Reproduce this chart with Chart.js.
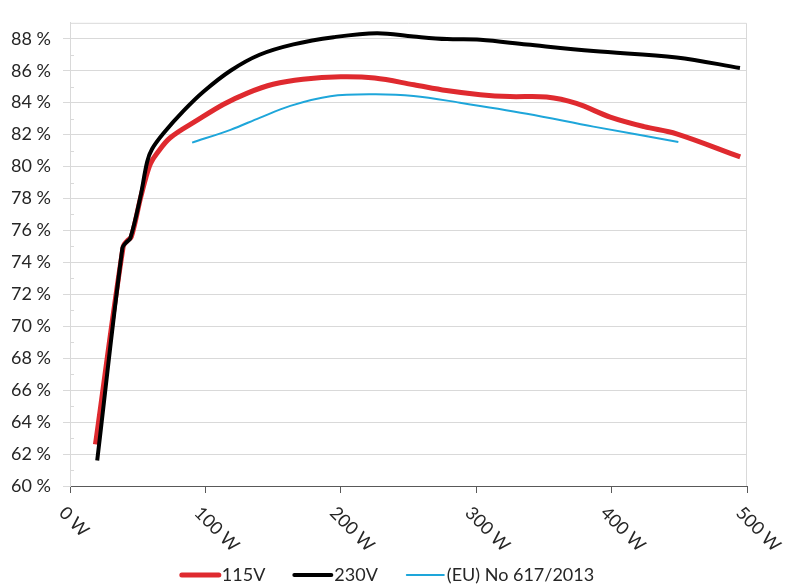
<!DOCTYPE html>
<html>
<head>
<meta charset="utf-8">
<script src="https://cdn.jsdelivr.net/npm/chart.js@4"></script>
<style>
  html, body { margin: 0; padding: 0; background: #fff; }
  #wrap { width: 789px; height: 587px; }
</style>
</head>
<body>
<div id="wrap"><canvas id="chart"></canvas></div>
<script>
// ===== DATA =====
const xTicks = [0, 100, 200, 300, 400, 500];
const seriesNames = ["115V", "230V", "(EU) No 617/2013"];
const seriesColors = ["#DF2A2F", "#000000", "#1EA6DA"];
const seriesWidths = [5, 4, 2];

const watts115 = [18.8, 39.3, 42.3, 45.3, 52, 56, 59.5, 64, 74, 94, 113.5, 131, 150, 172, 200, 225, 254, 278, 303, 325, 352, 374, 399, 424, 448, 495];
const eff115 = [62.6, 75.0, 75.35, 75.6, 78.0, 79.3, 80.2, 80.8, 81.8, 82.9, 83.9, 84.6, 85.15, 85.47, 85.62, 85.54, 85.12, 84.76, 84.5, 84.38, 84.35, 83.95, 83.1, 82.5, 82.05, 80.6];

const watts230 = [20.1, 38.7, 41.5, 44.5, 52, 57, 60.6, 69.2, 84, 98.7, 118.5, 140, 165, 194.7, 226.7, 253.7, 278.4, 303, 337.4, 386.6, 448, 494.8];
const eff230 = [61.6, 74.9, 75.25, 75.5, 78.1, 80.3, 81.1, 82.1, 83.5, 84.7, 86.0, 87.0, 87.65, 88.1, 88.35, 88.14, 87.98, 87.94, 87.64, 87.23, 86.83, 86.17];

const wattsEU = [90.2, 118.5, 140, 162.7, 192.3, 224.2, 253.7, 288, 337.4, 386.6, 449.3];
const effEU = [81.5, 82.3, 83.05, 83.8, 84.4, 84.52, 84.42, 84.0, 83.31, 82.5, 81.54];

const FONT = "Lato, 'Open Sans', sans-serif";
const TXT = "#262626";

function pts(xs, ys) {
  return xs.map((x, i) => ({ x: x, y: ys[i] }));
}

// rahmen, minor ticks, gedrehte x-labels, legende
const extras = {
  id: "extras",
  beforeDatasetsDraw(chart) {
    const { ctx, chartArea: a } = chart;
    const y = chart.scales.y;
    ctx.save();
    ctx.strokeStyle = "#D9D9D9";
    ctx.lineWidth = 1;
    ctx.beginPath();
    ctx.moveTo(a.left, a.top + 0.5);
    ctx.lineTo(a.right - 0.5, a.top + 0.5);
    ctx.lineTo(a.right - 0.5, a.bottom);
    ctx.stroke();
    for (let v = 61; v < 89; v += 2) {
      const py = Math.round(y.getPixelForValue(v)) + 0.5;
      ctx.beginPath();
      ctx.moveTo(a.left, py);
      ctx.lineTo(a.left + 4, py);
      ctx.stroke();
    }
    ctx.restore();
  },
  afterDraw(chart) {
    const { ctx } = chart;
    const x = chart.scales.x;
    const bottom = chart.chartArea.bottom;
    ctx.save();
    ctx.font = "18px " + FONT;
    ctx.fillStyle = TXT;
    ctx.textAlign = "left";
    ctx.textBaseline = "middle";
    xTicks.forEach((t) => {
      const px = x.getPixelForValue(t);
      ctx.save();
      ctx.translate(px - 8, bottom + 24);
      ctx.rotate(Math.PI / 4);
      ctx.fillText(t + " W", 0, 0);
      ctx.restore();
    });

    // legende unten
    const lineLen = 37, gap = 3, space = 29, ly = 575;
    const widths = seriesNames.map((n) => ctx.measureText(n).width);
    let total = 0;
    widths.forEach((w, i) => { total += lineLen + gap + w + (i < widths.length - 1 ? space : 0); });
    let lx = 388 - total / 2;
    seriesNames.forEach((n, i) => {
      ctx.strokeStyle = seriesColors[i];
      ctx.lineWidth = seriesWidths[i];
      ctx.lineCap = "round";
      ctx.beginPath();
      ctx.moveTo(lx, ly);
      ctx.lineTo(lx + lineLen, ly);
      ctx.stroke();
      ctx.fillText(n, lx + lineLen + gap, ly);
      lx += lineLen + gap + widths[i] + space;
    });
    ctx.restore();
  }
};

const datasets = [watts115, watts230, wattsEU].map((xs, i) => ({
  label: seriesNames[i],
  data: pts(xs, [eff115, eff230, effEU][i]),
  borderColor: seriesColors[i],
  backgroundColor: seriesColors[i],
  borderWidth: seriesWidths[i],
  borderJoinStyle: "round",
  showLine: true,
  pointRadius: 0,
  tension: 0.35,
  order: [2, 1, 3][i]
}));

new Chart(document.getElementById("chart"), {
  type: "scatter",
  data: { datasets: datasets },
  options: {
    responsive: true,
    maintainAspectRatio: false,
    animation: false,
    layout: { padding: { left: 0, right: 42, top: 5, bottom: 55 } },
    plugins: {
      tooltip: { enabled: false },
      legend: { display: false }
    },
    scales: {
      x: {
        type: "linear",
        min: 0,
        max: 500,
        afterBuildTicks(scale) {
          scale.ticks = xTicks.map((v) => ({ value: v }));
        },
        afterFit(scale) { scale.height = 46; },
        ticks: { display: false },
        grid: {
          drawOnChartArea: false,
          color: "#595959",
          tickColor: "#595959",
          tickLength: 7
        },
        border: { color: "#595959", width: 1 }
      },
      y: {
        min: 60,
        max: 89,
        afterFit(scale) { scale.width = 70; },
        ticks: {
          stepSize: 1,
          autoSkip: false,
          padding: 12,
          color: TXT,
          font: { family: FONT, size: 18 },
          callback: (v) => (v % 2 === 0 ? v + " %" : "")
        },
        grid: {
          color: (c) => (c.tick && c.tick.value % 2 === 0 ? "#D9D9D9" : "transparent"),
          tickColor: (c) => (c.tick && c.tick.value % 2 === 0 ? "#D9D9D9" : "transparent"),
          tickLength: 7
        },
        border: { color: "#D9D9D9" }
      }
    }
  },
  plugins: [extras]
});
</script>
</body>
</html>
